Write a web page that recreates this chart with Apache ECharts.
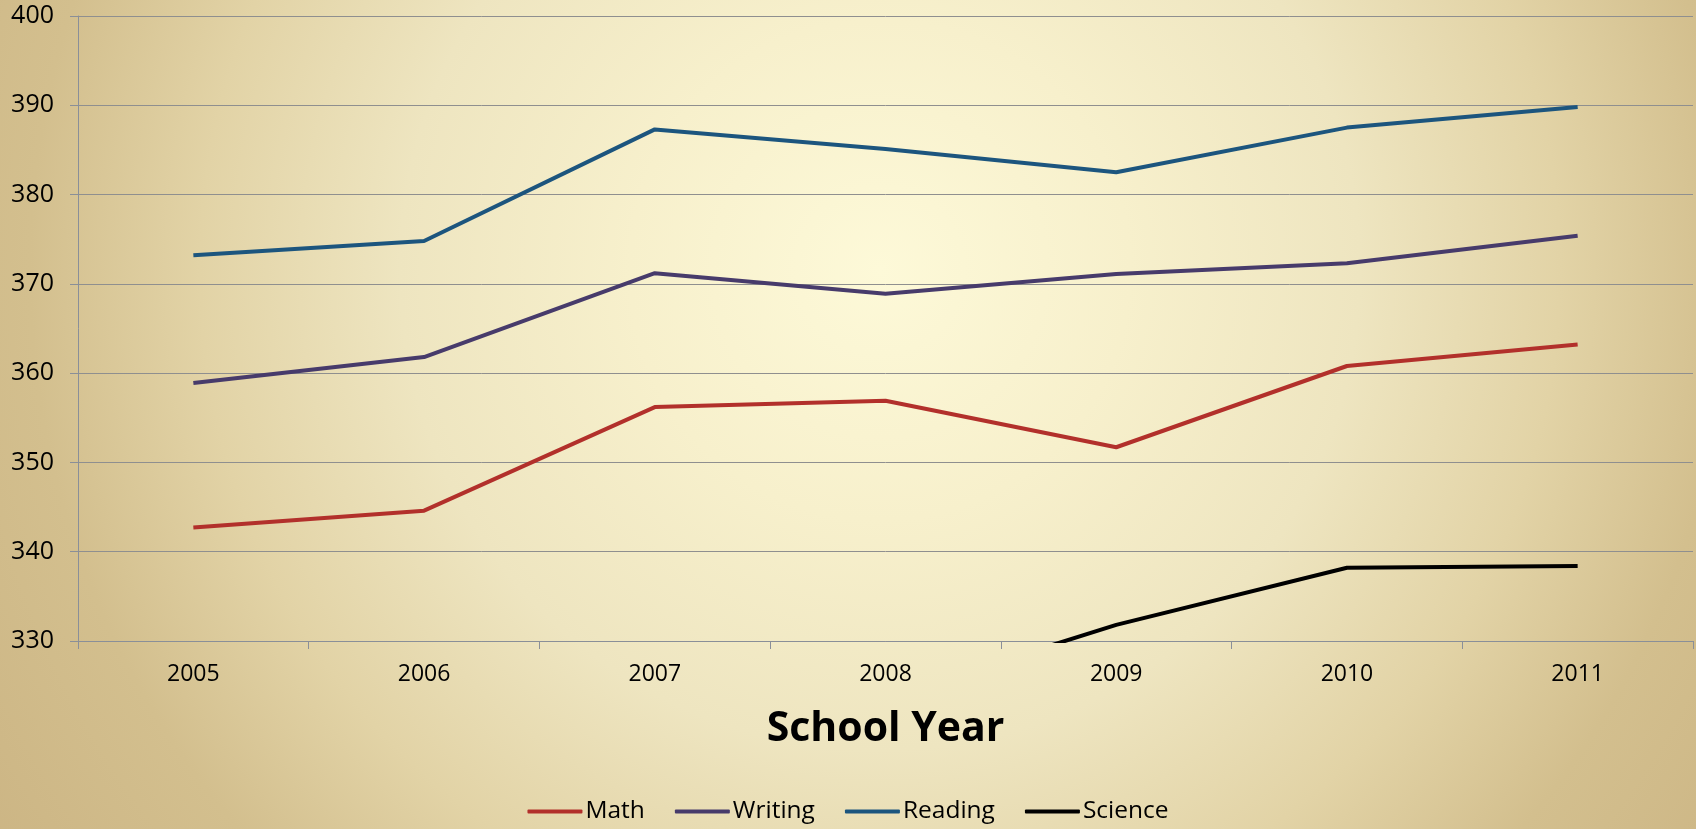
<!DOCTYPE html>
<html>
<head>
<meta charset="utf-8">
<script src="https://cdn.jsdelivr.net/npm/echarts@6/dist/echarts.min.js"></script>
<style>
html,body{margin:0;padding:0;}
#chart{width:1696px;height:829px;background:radial-gradient(circle 1060px at 880px 270px, #fdf9d8 0px, #f7f0cc 250px, #eee5c0 480px, #e2d3a6 680px, #d3bf8e 850px, #ccb584 1060px);}
</style>
</head>
<body>
<div id="chart"></div>
<script>
const years = ['2005','2006','2007','2008','2009','2010','2011'];
const math = [342.7, 344.6, 356.2, 356.9, 351.7, 360.8, 363.2];
const writing = [358.9, 361.8, 371.2, 368.9, 371.1, 372.3, 375.4];
const reading = [373.2, 374.8, 387.3, 385.1, 382.5, 387.5, 389.8];
const science = [null, null, null, 323.7, 331.8, 338.2, 338.4];
const seriesNames = ['Math','Writing','Reading','Science'];
const seriesColors = ['#b2302b','#473b6b','#1c557e','#000000'];
const seriesData = [math, writing, reading, science];

const chart = echarts.init(document.getElementById('chart'), null, {renderer:'canvas'});
const FONT = 'Open Sans';
chart.setOption({
  backgroundColor: 'transparent',
  animation: false,
  grid: {left: 78, right: 3, top: 16, bottom: 188, containLabel: false},
  legend: {
    bottom: 0,
    left: 'center',
    itemWidth: 55,
    itemHeight: 4,
    itemGap: 30,
    icon: 'roundRect',
    textStyle: {fontFamily: FONT, fontSize: 24.5, color: '#000', padding: [0,0,0,-2]},
    data: seriesNames
  },
  xAxis: {
    type: 'category',
    data: years,
    boundaryGap: true,
    name: 'School Year',
    nameLocation: 'middle',
    nameGap: 68,
    nameTextStyle: {fontFamily: FONT, fontSize: 41, fontWeight: 'bold', color: '#000'},
    axisLine: {lineStyle: {color: '#8a8f98', width: 1}},
    axisTick: {show: true, length: 8, alignWithLabel: false, lineStyle: {color: '#8a8f98'}},
    axisLabel: {fontFamily: FONT, fontSize: 23, color: '#000', margin: 22}
  },
  yAxis: {
    type: 'value',
    min: 330, max: 400, interval: 10,
    axisLine: {show: true, lineStyle: {color: '#8a8f98', width: 1}},
    axisTick: {show: true, length: 8, lineStyle: {color: '#8a8f98'}},
    axisLabel: {fontFamily: FONT, fontSize: 25, color: '#000', margin: 24},
    splitLine: {lineStyle: {color: '#8f8f8f', width: 1}}
  },
  series: seriesNames.map((n, i) => ({
    name: n,
    type: 'line',
    data: seriesData[i],
    symbol: 'none',
    clip: true,
    color: seriesColors[i],
    lineStyle: {width: 4, color: seriesColors[i]}
  }))
});
</script>
</body>
</html>
